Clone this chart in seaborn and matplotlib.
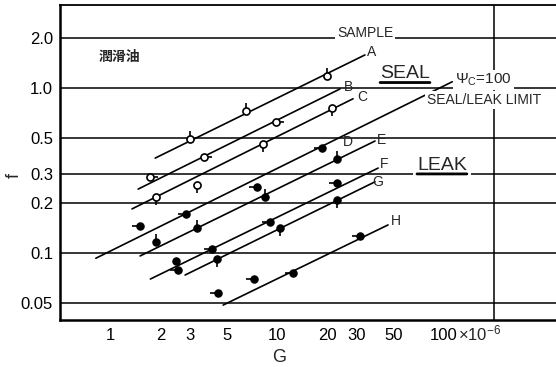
import numpy as np
import pandas as pd
import matplotlib
matplotlib.use("Agg")
import matplotlib.pyplot as plt
import seaborn as sns
from matplotlib.ticker import FixedLocator, FixedFormatter, NullLocator
from matplotlib.markers import TICKLEFT, TICKRIGHT, TICKUP, TICKDOWN

# ---------------- data ----------------
samples = ["A", "B", "C", "D", "E", "F", "G", "H"]
open_samples = ["A", "B", "C"]

A_G = [3.01, 6.5, 19.9];            A_f = [0.49, 0.73, 1.18]
B_G = [1.74, 3.66, 9.9];            B_f = [0.29, 0.38, 0.62]
C_G = [1.89, 3.3, 8.25, 21.3];      C_f = [0.22, 0.26, 0.46, 0.76]
D_G = [1.51, 2.85, 7.6, 18.6];      D_f = [0.146, 0.172, 0.25, 0.43]
E_G = [1.89, 3.3, 8.5, 22.9];       E_f = [0.116, 0.142, 0.22, 0.37]
F_G = [2.49, 2.55, 4.1, 9.1, 22.9]; F_f = [0.090, 0.079, 0.106, 0.154, 0.266]
G_G = [4.37, 10.4, 22.9];           G_f = [0.092, 0.142, 0.21]
H_G = [4.43, 7.3, 12.5, 31.4];      H_f = [0.057, 0.070, 0.076, 0.127]

# direction of the small tail drawn on each marker
A_tail = ["up", "up", "up"]
B_tail = ["right", "right", "right"]
C_tail = ["down", "down", "down", "down"]
D_tail = ["left", "left", "left", "left"]
E_tail = ["up", "up", "up", "up"]
F_tail = ["none", "left", "left", "left", "left"]
G_tail = ["down", "down", "down"]
H_tail = ["left", "left", "left", "left"]

# fitted lines: G range and f at the two ends (D line = psi_c = 100 limit)
line_G0 = [1.86, 1.47, 1.35, 0.82, 1.51, 1.74, 2.81, 4.75]
line_G1 = [33.6, 23.8, 28.5, 112.0, 38.6, 40.3, 38.6, 46.2]
line_f0 = [0.376, 0.244, 0.185, 0.093, 0.096, 0.0696, 0.0736, 0.0484]
line_f1 = [1.585, 0.986, 0.86, 1.09, 0.477, 0.327, 0.27, 0.148]

# label position of each sample letter
lab_G = [34.6, 25.2, 30.1, 24.8, 39.7, 41.4, 37.0, 48.2]
lab_f = [1.65, 1.01, 0.882, 0.471, 0.484, 0.346, 0.269, 0.156]

x_ticks = [1, 2, 3, 5, 10, 20, 30, 50, 100, 300]
x_ticklabels = ["1", "2", "3", "5", "10", "20", "30", "50", "100", ""]
x_grid = [1, 2, 5, 10, 20, 50, 100, 200]
y_ticks = [0.05, 0.1, 0.2, 0.3, 0.5, 1.0, 2.0]
y_ticklabels = ["0.05", "0.1", "0.2", "0.3", "0.5", "1.0", "2.0"]

# ---------------- build tables ----------------
pts_G = {"A": A_G, "B": B_G, "C": C_G, "D": D_G, "E": E_G, "F": F_G, "G": G_G, "H": H_G}
pts_f = {"A": A_f, "B": B_f, "C": C_f, "D": D_f, "E": E_f, "F": F_f, "G": G_f, "H": H_f}
pts_t = {"A": A_tail, "B": B_tail, "C": C_tail, "D": D_tail, "E": E_tail,
         "F": F_tail, "G": G_tail, "H": H_tail}
rows = []
for s in samples:
    for g, f, t in zip(pts_G[s], pts_f[s], pts_t[s]):
        rows.append({"sample": s, "G": g, "f": f, "tail": t,
                     "kind": "open" if s in open_samples else "filled"})
points = pd.DataFrame(rows)

lines = pd.DataFrame({
    "sample": samples * 2,
    "G": line_G0 + line_G1,
    "f": line_f0 + line_f1,
})

# ---------------- style ----------------
sns.set_style("white")
plt.rcParams["font.family"] = ["Liberation Sans", "DejaVu Sans"]
plt.rcParams["mathtext.fontset"] = "custom"
plt.rcParams["mathtext.rm"] = "Liberation Sans"
plt.rcParams["mathtext.it"] = "Liberation Sans:italic"
plt.rcParams["mathtext.sf"] = "Liberation Sans"
plt.rcParams["mathtext.bf"] = "Liberation Sans:bold"

fig = plt.figure(figsize=(5.56, 3.67), dpi=100)
ax = fig.add_axes([60 / 556, 1 - 320 / 367, 496 / 556, 315 / 367])
ax.set_xscale("log")
ax.set_yscale("log")

# lines
sns.lineplot(data=lines, x="G", y="f", units="sample", estimator=None, sort=False,
             color="black", linewidth=1.2, ax=ax, zorder=3, legend=False)

# marker tails
tail_marker = {"up": TICKUP, "down": TICKDOWN, "left": TICKLEFT, "right": TICKRIGHT}
for t, m in tail_marker.items():
    sub = points[points["tail"] == t]
    ax.plot(sub["G"], sub["f"], linestyle="none", marker=m, markersize=5.6,
            markeredgewidth=1.2, color="black", zorder=4)

# markers
sns.scatterplot(data=points[points["kind"] == "open"], x="G", y="f", s=26,
                facecolor="white", edgecolor="black", linewidth=1.2, ax=ax,
                zorder=5, legend=False)
sns.scatterplot(data=points[points["kind"] == "filled"], x="G", y="f", s=28,
                color="black", edgecolor="black", linewidth=0.8, ax=ax,
                zorder=5, legend=False)

# ---------------- axes ----------------
ax.set_xlim(0.5, 469)
ax.set_ylim(0.0393, 3.18)

ax.xaxis.set_major_locator(FixedLocator(x_ticks))
ax.xaxis.set_major_formatter(FixedFormatter(x_ticklabels))
ax.xaxis.set_minor_locator(FixedLocator(x_grid))
ax.yaxis.set_major_locator(FixedLocator(y_ticks))
ax.yaxis.set_major_formatter(FixedFormatter(y_ticklabels))
ax.yaxis.set_minor_locator(NullLocator())

ax.grid(False)
ax.grid(True, which="minor", axis="x", color="black", linewidth=1.1)
ax.grid(True, which="major", axis="y", color="black", linewidth=1.1)
ax.tick_params(axis="x", which="major", direction="in", length=4, width=1.0,
               labelsize=12, pad=6, colors="black")
ax.tick_params(axis="x", which="minor", length=0)
ax.tick_params(axis="y", which="major", length=0, labelsize=12, pad=5, colors="black")

for side in ["left", "bottom"]:
    ax.spines[side].set_linewidth(1.8)
    ax.spines[side].set_color("black")
ax.spines["top"].set_linewidth(1.3)
ax.spines["top"].set_color("black")
ax.spines["right"].set_visible(False)

ax.set_xlabel("G", fontsize=13)
ax.set_ylabel("f", fontsize=13)
ax.xaxis.set_label_coords((279 - 60) / 496, -(357 - 320) / 315)
ax.xaxis.label.set_va("center")
ax.yaxis.set_label_coords(-(46 / 496), (320 - 176) / 315)
ax.yaxis.label.set_va("center")

ax.annotate(r"×10$^{-6}$", xy=(100, 0), xycoords=("data", "axes fraction"),
            xytext=(14, -13), textcoords="offset pixels", ha="left", va="center",
            fontsize=12)

# ---------------- annotations ----------------
for s, g, f in zip(samples, lab_G, lab_f):
    ax.text(g, f, s, fontsize=10, ha="left", va="center", zorder=6)

box = dict(facecolor="white", edgecolor="none", pad=1.5)
ax.text(22.9, 2.15, "SAMPLE", fontsize=10, ha="left", va="center", bbox=box, zorder=6)
seal = ax.text(41.4, 1.22, "SEAL", fontsize=14, ha="left", va="center",
               bbox=dict(facecolor="white", edgecolor="none", pad=3), zorder=6)
ax.text(116, 1.118, r"$\mathit{\Psi}_{\mathrm{C}}$=100", fontsize=11, ha="left",
        va="center", bbox=box, zorder=6)
ax.text(79.1, 0.846, "SEAL/LEAK LIMIT", fontsize=10, ha="left", va="center",
        bbox=box, zorder=6)
leak = ax.text(68.9, 0.341, "LEAK", fontsize=14, ha="left", va="center",
               bbox=dict(facecolor="white", edgecolor="none", pad=3), zorder=6)
for t in (seal, leak):
    ax.annotate("", xy=(1.0, -0.02), xycoords=t, xytext=(0.0, -0.02), textcoords=t,
                arrowprops=dict(arrowstyle="-", lw=2.0, color="black",
                                shrinkA=0, shrinkB=0), zorder=7)
ax.text(0.848, 1.54, "潤滑油", fontsize=10, ha="left", va="center", weight="bold",
        family=["Noto Sans CJK JP", "DejaVu Sans"], zorder=6)

fig.savefig("out.png", dpi=100)
